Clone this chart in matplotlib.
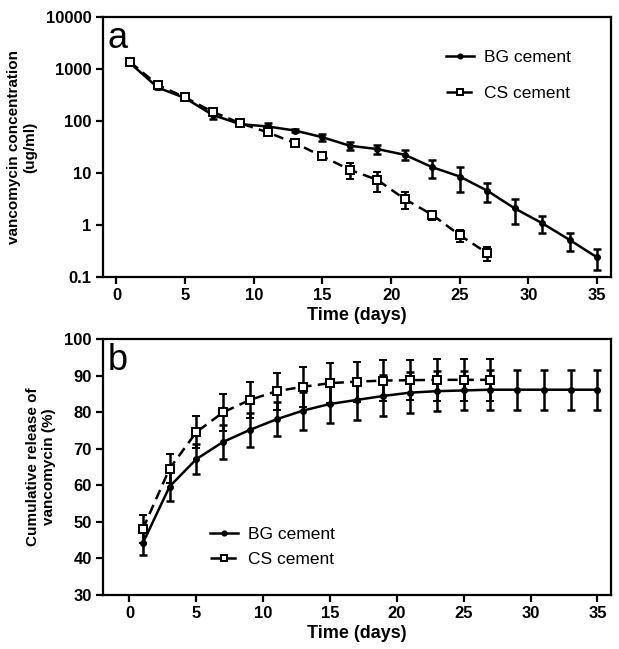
import numpy as np
import matplotlib.pyplot as plt
from matplotlib.lines import Line2D

plt.rcParams['font.family'] = ['Liberation Sans', 'DejaVu Sans']

# ---------------------------------------------------------
# Data
# ---------------------------------------------------------
days_bg = [1, 3, 5, 7, 9, 11, 13, 15, 17, 19, 21, 23, 25, 27, 29, 31, 33, 35]
days_cs = [1, 3, 5, 7, 9, 11, 13, 15, 17, 19, 21, 23, 25, 27]

# panel a: concentration (ug/ml)
conc_bg = [1300, 444, 277, 132, 87.5, 79, 66, 49, 33.6, 29, 22.5, 13, 8.6, 4.6, 2.1, 1.09, 0.52, 0.24]
conc_bg_err = [60, 30, 20, 21, 8, 15, 5, 8, 5.3, 5.5, 4.8, 5, 4.3, 1.8, 1.06, 0.38, 0.2, 0.105]
conc_cs = [1365, 500, 285, 151, 91.6, 61, 37.8, 21, 11.6, 7.4, 3.16, 1.58, 0.64, 0.29]
conc_cs_err = [60, 30, 20, 10, 6, 5, 4, 3, 4, 3, 1.1, 0.3, 0.17, 0.09]

# panel b: cumulative release (%)
cum_bg = [44.2, 59.7, 67.2, 71.9, 75.2, 78.1, 80.5, 82.3, 83.4, 84.5, 85.4, 85.8, 86.0, 86.2, 86.2, 86.2, 86.2, 86.2]
cum_bg_err = [3.3, 4.0, 4.2, 4.7, 4.6, 4.7, 5.2, 5.2, 5.4, 5.6, 5.6, 5.4, 5.4, 5.5, 5.5, 5.5, 5.5, 5.5]
cum_cs = [48.1, 64.6, 74.6, 80.0, 83.4, 85.8, 87.0, 88.0, 88.4, 88.7, 88.8, 88.9, 88.9, 88.9]
cum_cs_err = [3.8, 4.0, 4.4, 5.0, 4.9, 5.1, 5.5, 5.5, 5.5, 5.7, 5.5, 5.8, 5.8, 5.8]

# ---------------------------------------------------------
# Figure
# ---------------------------------------------------------
fig = plt.figure(figsize=(6.19, 6.49), dpi=100)
ax1 = fig.add_axes([0.166, 0.573, 0.8207, 0.4006])
ax2 = fig.add_axes([0.166, 0.0832, 0.8207, 0.394])

bg_line = dict(color='black', lw=1.8, marker='o', ms=4)
cs_line = dict(color='black', lw=1.8, ls=(0, (4, 2.5)), marker='s', ms=5.5, mfc='white', mew=1.4)
err_kw = dict(capsize=3.2, elinewidth=1.8, capthick=1.8)

handles = [Line2D([], [], **bg_line), Line2D([], [], **cs_line)]
labels = ['BG cement', 'CS cement']

# panel a
ax1.errorbar(days_bg, conc_bg, yerr=conc_bg_err, zorder=3, **bg_line, **err_kw)
ax1.errorbar(days_cs, conc_cs, yerr=conc_cs_err, zorder=4, **cs_line, **err_kw)
ax1.set_yscale('log')
ax1.set_ylim(0.1, 10000)
ax1.set_xlim(-1, 36)
ax1.set_yticks([0.1, 1, 10, 100, 1000, 10000])
ax1.set_yticklabels(['0.1', '1', '10', '100', '1000', '10000'])
ax1.minorticks_off()
ax1.set_ylabel('vancomycin concentration\n(ug/ml)', fontsize=11, fontweight='bold', labelpad=6)
ax1.text(0.01, 0.985, 'a', transform=ax1.transAxes, fontsize=26, va='top', ha='left')
ax1.legend(handles, labels, loc='upper left', bbox_to_anchor=(0.645, 0.935), frameon=False,
           fontsize=12.5, handlelength=1.6, labelspacing=1.2, handletextpad=0.6, markerscale=0.85)

# panel b
ax2.errorbar(days_bg, cum_bg, yerr=cum_bg_err, zorder=3, **bg_line, **err_kw)
ax2.errorbar(days_cs, cum_cs, yerr=cum_cs_err, zorder=4, **cs_line, **err_kw)
ax2.set_ylim(30, 100)
ax2.set_xlim(-2, 36)
ax2.set_yticks(np.arange(30, 101, 10))
ax2.set_ylabel('Cumulative release of\nvancomycin (%)', fontsize=11, fontweight='bold', labelpad=6)
ax2.text(0.01, 0.985, 'b', transform=ax2.transAxes, fontsize=26, va='top', ha='left')
ax2.legend(handles, labels, loc='lower left', bbox_to_anchor=(0.18, 0.05), frameon=False,
           fontsize=12.5, handlelength=1.6, labelspacing=0.55, handletextpad=0.6, markerscale=0.85)

for ax in (ax1, ax2):
    ax.set_xticks(np.arange(0, 36, 5))
    ax.set_xlabel('Time (days)', fontsize=13, fontweight='bold', labelpad=3)
    for s in ax.spines.values():
        s.set_linewidth(1.6)
    ax.tick_params(direction='out', length=5, width=1.6, labelsize=12, pad=3,
                   top=False, right=False)
    for lab in ax.get_xticklabels() + ax.get_yticklabels():
        lab.set_fontweight('bold')

fig.savefig('out.png', dpi=100, facecolor='white')
